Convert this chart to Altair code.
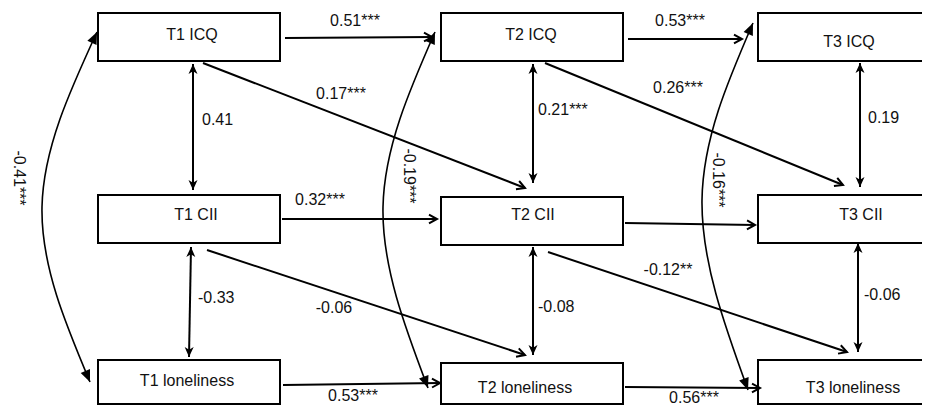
import altair as alt
import pandas as pd
import numpy as np

# ---------------- data ----------------
node_labels = ["T1 ICQ", "T2 ICQ", "T3 ICQ",
               "T1 CII", "T2 CII", "T3 CII",
               "T1 loneliness", "T2 loneliness", "T3 loneliness"]

# cross-lagged / autoregressive paths (single-headed)
path_labels = ["0.51***", "0.53***", "0.17***", "0.26***", "0.32***", "",
               "-0.06", "-0.12**", "0.53***", "0.56***"]
# within-wave correlations (double-headed, vertical)
corr_labels = ["0.41", "0.21***", "0.19", "-0.33", "-0.08", "-0.06"]
# ICQ <-> loneliness within wave (curved, double-headed)
curve_labels = ["-0.41***", "-0.19***", "-0.16***"]

# ---------------- layout (reference pixel geometry) ----------------
box_x1 = [98, 441, 758, 98, 441, 758, 98, 441, 758]
box_x2 = [280, 623, 935, 280, 623, 935, 280, 623, 935]
box_y1 = [13, 13, 13, 195, 197, 195, 360, 363, 360]
box_y2 = [61, 61, 61, 243, 245, 243, 404, 404, 404]
lab_x = [192, 531, 849, 196, 533, 861, 187, 525, 853]
lab_y = [35, 35, 42, 215, 215, 215, 381, 388, 388]

path_x1 = [285, 628, 203, 545, 282, 625, 207, 548, 283, 625]
path_y1 = [38, 39, 63, 63, 219, 223, 250, 252, 385, 387]
path_x2 = [432, 742, 525, 843, 437, 755, 525, 847, 440, 760]
path_y2 = [37, 39, 188, 185, 219, 225, 355, 352, 383, 388]
path_tx = [355, 680, 341, 678, 320, 0, 334, 668, 353, 694]
path_ty = [21, 21, 94, 88, 200, 0, 308, 270, 396, 398]

corr_x1 = [193, 533, 860, 191, 533, 858]
corr_y1 = [64, 64, 63, 247, 247, 243]
corr_x2 = [193, 533, 860, 189, 533, 858]
corr_y2 = [190, 183, 187, 357, 355, 352]
corr_tx = [202, 538, 868, 198, 538, 864]
corr_ty = [120, 110, 118, 298, 307, 295]

curve_px = [[97, 42, 90], [435, 383, 428], [753, 702, 748]]
curve_py = [[32, 207, 382], [32, 207, 388], [23, 200, 390]]
curve_tx = [19, 409, 718]
curve_ty = [178, 176, 180]

# plot area = page minus the 8px body margin, mapped 1:1 onto reference pixels
W, H = 914, 397
XS = alt.Scale(domain=[8, 922], nice=False, zero=False)
YS = alt.Scale(domain=[8, 405], nice=False, zero=False, reverse=True)
FONT = "Liberation Sans"

# ---------------- tables ----------------
boxes = pd.DataFrame({"label": node_labels, "x1": box_x1, "x2": box_x2,
                      "y1": box_y1, "y2": box_y2, "tx": lab_x, "ty": lab_y})

paths = pd.DataFrame({"x1": path_x1, "y1": path_y1, "x2": path_x2, "y2": path_y2,
                      "tx": path_tx, "ty": path_ty, "label": path_labels})
corrs = pd.DataFrame({"x1": corr_x1, "y1": corr_y1, "x2": corr_x2, "y2": corr_y2,
                      "tx": corr_tx, "ty": corr_ty, "label": corr_labels})


def ang(dx, dy):
    return float(np.degrees(np.arctan2(dy, dx)) % 360)


# open chevron heads on single-headed paths
chev = pd.DataFrame({
    "x": path_x2, "y": path_y2,
    "ang": [ang(b - a, d - c) for a, b, c, d in zip(path_x1, path_x2, path_y1, path_y2)],
})
# notched filled heads on vertical correlations (both ends)
vh_rows = []
for a, b, c, d in zip(corr_x1, corr_x2, corr_y1, corr_y2):
    vh_rows.append({"x": a, "y": c, "ang": ang(a - b, c - d)})
    vh_rows.append({"x": b, "y": d, "ang": ang(b - a, d - c)})
vheads = pd.DataFrame(vh_rows)

# curves: natural spline through three points; heads follow end tangents
cv_rows, ch_rows = [], []
for i, (px, py) in enumerate(zip(curve_px, curve_py)):
    for k in range(3):
        cv_rows.append({"cid": i, "o": k, "x": px[k], "y": py[k]})
    P = np.array([px, py], dtype=float).T
    sec = P[0] - 2 * P[1] + P[2]
    d0 = (P[1] - P[0]) - sec / 4.0
    d2 = (P[2] - P[1]) + sec / 4.0
    ch_rows.append({"x": px[0], "y": py[0], "ang": ang(-d0[0], -d0[1])})
    ch_rows.append({"x": px[2], "y": py[2], "ang": ang(d2[0], d2[1])})
curves = pd.DataFrame(cv_rows)
cheads = pd.DataFrame(ch_rows)
ctext = pd.DataFrame({"x": curve_tx, "y": curve_ty, "label": curve_labels})

CHEVRON = "M -1 -0.55 L 0 0 L -1 0.55"
NOTCHED = "M 0 0 L -1 -0.45 L -0.72 0 L -1 0.45 Z"
TRI = "M 0 0 L -1 -0.42 L -1 0.42 Z"

# ---------------- marks ----------------
rects = alt.Chart(boxes).mark_rect(fill="white", stroke="black", strokeWidth=2, clip=True).encode(
    x=alt.X("x1:Q", scale=XS, axis=None), x2="x2:Q",
    y=alt.Y("y1:Q", scale=YS, axis=None), y2="y2:Q")

box_text = alt.Chart(boxes).mark_text(font=FONT, fontSize=16, color="#111",
                                      align="center", baseline="middle").encode(
    x=alt.X("tx:Q", scale=XS, axis=None), y=alt.Y("ty:Q", scale=YS, axis=None), text="label:N")

path_lines = alt.Chart(paths).mark_rule(color="black", strokeWidth=2).encode(
    x=alt.X("x1:Q", scale=XS, axis=None), x2="x2:Q",
    y=alt.Y("y1:Q", scale=YS, axis=None), y2="y2:Q")

path_text = alt.Chart(paths).transform_filter("datum.label != ''").mark_text(
    font=FONT, fontSize=16, color="#111", align="center", baseline="middle").encode(
    x=alt.X("tx:Q", scale=XS, axis=None), y=alt.Y("ty:Q", scale=YS, axis=None), text="label:N")

corr_lines = alt.Chart(corrs).mark_rule(color="black", strokeWidth=2).encode(
    x=alt.X("x1:Q", scale=XS, axis=None), x2="x2:Q",
    y=alt.Y("y1:Q", scale=YS, axis=None), y2="y2:Q")

corr_text = alt.Chart(corrs).mark_text(font=FONT, fontSize=16, color="#111",
                                       align="left", baseline="middle").encode(
    x=alt.X("tx:Q", scale=XS, axis=None), y=alt.Y("ty:Q", scale=YS, axis=None), text="label:N")

chev_marks = alt.Chart(chev).mark_point(shape=CHEVRON, size=256, filled=False,
                                        color="black", strokeWidth=2, opacity=1).encode(
    x=alt.X("x:Q", scale=XS, axis=None), y=alt.Y("y:Q", scale=YS, axis=None),
    angle=alt.Angle("ang:Q", scale=None))

vhead_marks = alt.Chart(vheads).mark_point(shape=NOTCHED, size=400, filled=True,
                                           color="black", opacity=1, strokeWidth=0).encode(
    x=alt.X("x:Q", scale=XS, axis=None), y=alt.Y("y:Q", scale=YS, axis=None),
    angle=alt.Angle("ang:Q", scale=None))

curve_lines = alt.Chart(curves).mark_line(color="black", strokeWidth=1.6, interpolate="natural").encode(
    x=alt.X("x:Q", scale=XS, axis=None), y=alt.Y("y:Q", scale=YS, axis=None),
    order="o:Q", detail="cid:N")

chead_marks = alt.Chart(cheads).mark_point(shape=TRI, size=576, filled=True,
                                           color="black", opacity=1, strokeWidth=0).encode(
    x=alt.X("x:Q", scale=XS, axis=None), y=alt.Y("y:Q", scale=YS, axis=None),
    angle=alt.Angle("ang:Q", scale=None))

curve_text = alt.Chart(ctext).mark_text(font=FONT, fontSize=16, color="#111", angle=90,
                                        align="center", baseline="middle").encode(
    x=alt.X("x:Q", scale=XS, axis=None), y=alt.Y("y:Q", scale=YS, axis=None), text="label:N")

chart = alt.layer(
    path_lines, corr_lines, curve_lines, rects, box_text,
    chev_marks, vhead_marks, chead_marks,
    path_text, corr_text, curve_text,
).properties(
    width=W, height=H, padding=0, autosize=alt.AutoSizeParams(type="none"),
    background="white",
).configure_view(stroke=None)

chart.save("out.html", embed_options={"renderer": "svg", "actions": False})
